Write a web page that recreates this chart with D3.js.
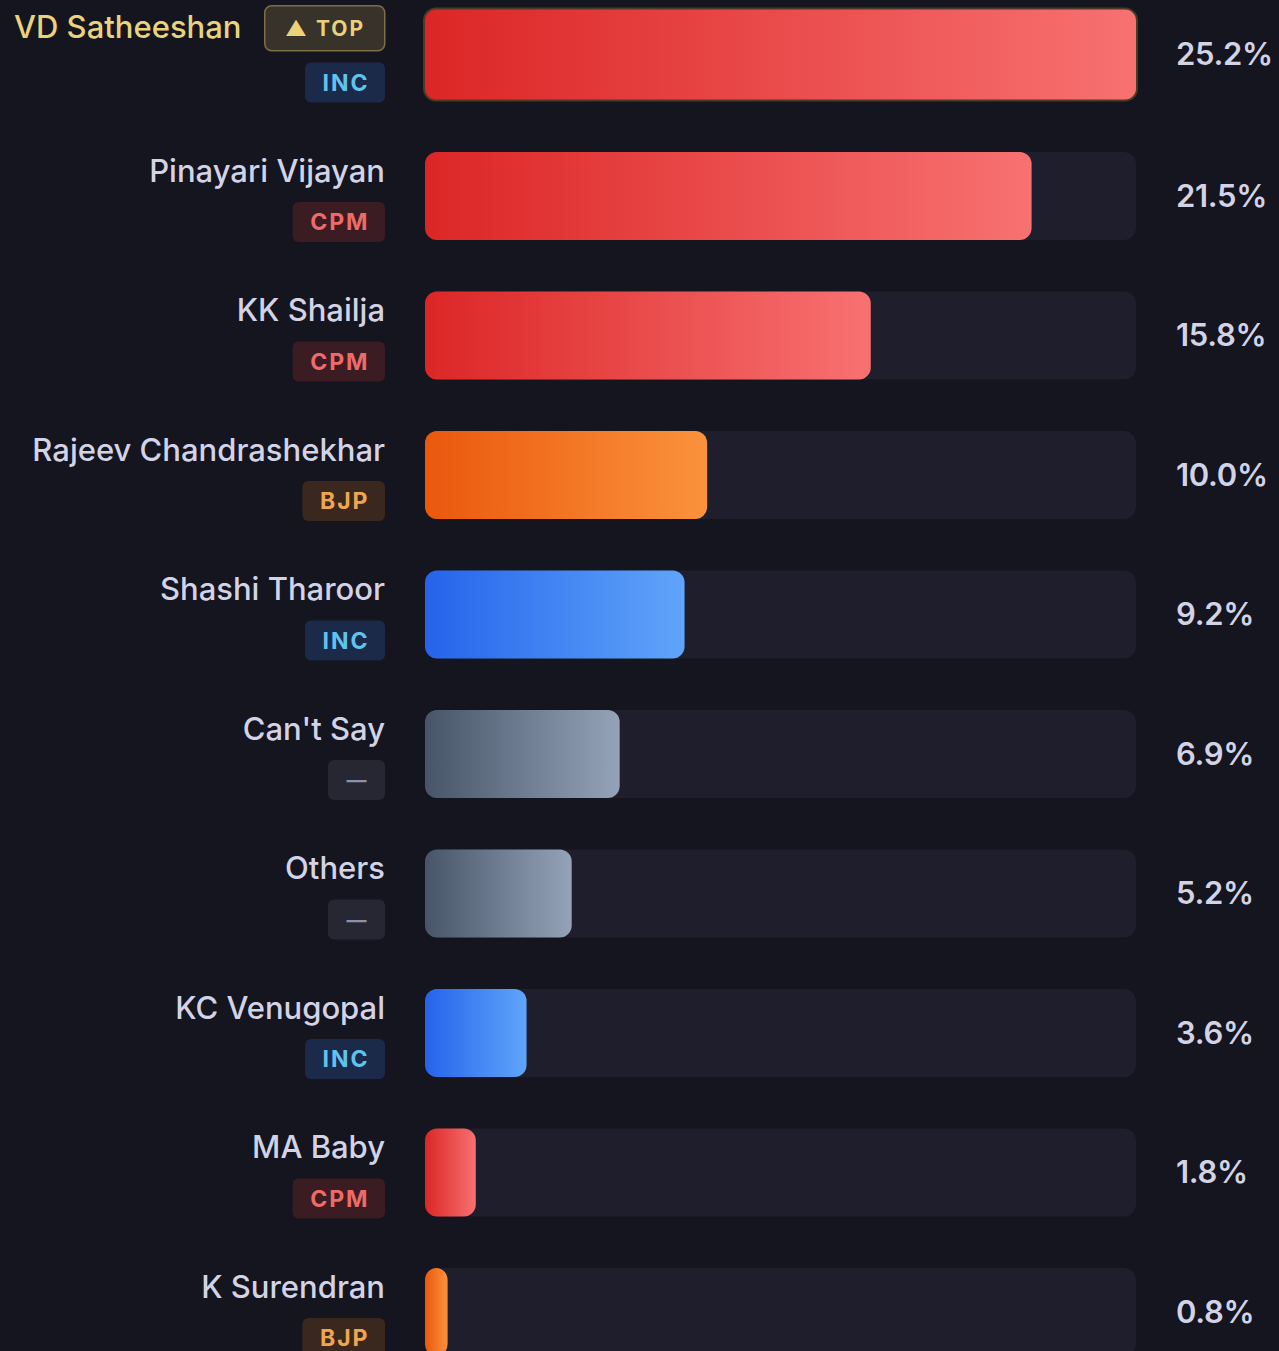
<!DOCTYPE html>
<html>
<head>
<meta charset="utf-8">
<script src="https://cdn.jsdelivr.net/npm/d3@7"></script>
<style>
  html, body { margin: 0; padding: 0; background: #14151f; }
  svg { display: block; font-family: Inter, "Noto Sans", sans-serif; }
</style>
</head>
<body>
<div id="chart"></div>
<script>
// Chart data.
let names = ["VD Satheeshan", "Pinayari Vijayan", "KK Shailja", "Rajeev Chandrashekhar",
    "Shashi Tharoor", "Can't Say", "Others", "KC Venugopal", "MA Baby", "K Surendran"];
let parties = ["INC", "CPM", "CPM", "BJP", "INC", "—", "—", "INC", "CPM", "BJP"];
let shares = [25.2, 21.5, 15.8, 10.0, 9.2, 6.9, 5.2, 3.6, 1.8, 0.8];
let shareLabels = ["25.2%", "21.5%", "15.8%", "10.0%", "9.2%", "6.9%", "5.2%", "3.6%", "1.8%", "0.8%"];
let topLabel = "▲ TOP";

let width = 1279, height = 1351;
let trackLeft = 425, trackRight = 1136;

let rows = names.map(function (n, i) {
    return { name: n, party: parties[i], value: shares[i], label: shareLabels[i], top: i === 0 };
});

// Scales
let x = d3.scaleLinear().domain([0, d3.max(shares)]).range([trackLeft, trackRight]);
let y = d3.scaleBand().domain(names).range([12.5, 1356]).paddingInner(51.5 / 139.5).paddingOuter(0);

// Gradient colours per bar colour group.
let grad = {
    red: ["#dc2626", "#f87171"],
    orange: ["#ea580c", "#fb923c"],
    blue: ["#2563eb", "#60a5fa"],
    gray: ["#475569", "#94a3b8"]
};
let partyColor = d3.scaleOrdinal().domain(["INC", "CPM", "BJP", "—"]).range(["blue", "red", "orange", "gray"]);
function barColor(d) { return d.top ? "red" : partyColor(d.party); }

// Badge styles
let badgeFill = d3.scaleOrdinal().domain(["INC", "CPM", "BJP", "—"]).range(["#1c2a4a", "#3b1c22", "#3a281f", "#262733"]);
let badgeText = d3.scaleOrdinal().domain(["INC", "CPM", "BJP", "—"]).range(["#5ec4ee", "#ee6b68", "#f0a64f", "#8c91a8"]);

let svg = d3.select("#chart").append("svg")
    .attr("width", width)
    .attr("height", height);

svg.append("rect").attr("width", width).attr("height", height).attr("fill", "#14151f");

let defs = svg.append("defs");
Object.keys(grad).forEach(function (k) {
    let g = defs.append("linearGradient").attr("id", "g-" + k)
        .attr("x1", "0%").attr("x2", "100%").attr("y1", "0%").attr("y2", "0%");
    g.append("stop").attr("offset", "0%").attr("stop-color", grad[k][0]);
    g.append("stop").attr("offset", "100%").attr("stop-color", grad[k][1]);
});

let row = svg.selectAll(".row")
    .data(rows)
    .enter().append("g")
    .attr("class", "row")
    .attr("transform", function (d) { return "translate(0," + y(d.name) + ")"; });

let bh = y.bandwidth();

// Track
row.append("rect")
    .attr("x", trackLeft)
    .attr("width", trackRight - trackLeft)
    .attr("height", bh)
    .attr("rx", 12)
    .attr("fill", "#1e1e2c");

// Bar (the leader is drawn a little larger, with an outline)
row.append("rect")
    .attr("x", function (d) { return d.top ? trackLeft - 1 : trackLeft; })
    .attr("y", function (d) { return d.top ? -4 : 0; })
    .attr("width", function (d) { return x(d.value) - trackLeft + (d.top ? 2 : 0); })
    .attr("height", function (d) { return d.top ? bh + 4 : bh; })
    .attr("rx", 12)
    .attr("fill", function (d) { return "url(#g-" + barColor(d) + ")"; })
    .attr("stroke", function (d) { return d.top ? "#4a3a2a" : "none"; })
    .attr("stroke-width", 2);

// Percent label
row.append("text")
    .attr("x", 1176)
    .attr("y", function (d) { return d.top ? bh / 2 - 2 : bh / 2; })
    .attr("dy", "0.35em")
    .attr("fill", "#d3d3e6")
    .attr("font-size", 31)
    .attr("font-weight", 600)
    .attr("letter-spacing", -0.3)
    .text(function (d) { return d.label; });

// Name
row.append("text")
    .attr("x", function (d) { return d.top ? 14 : 385; })
    .attr("y", function (d) { return d.top ? 15 : 19; })
    .attr("dy", "0.35em")
    .attr("text-anchor", function (d) { return d.top ? "start" : "end"; })
    .attr("fill", function (d) { return d.top ? "#e9d37c" : "#d3d3e6"; })
    .attr("font-size", 31)
    .attr("font-weight", 500)
    .text(function (d) { return d.name; });

// Party badge
let badge = row.append("g").attr("transform", "translate(0,50)");
badge.append("text")
    .attr("y", 20)
    .attr("dy", "0.36em")
    .attr("text-anchor", "middle")
    .attr("font-size", function (d) { return d.party === "—" ? 20 : 23; })
    .attr("font-weight", 700)
    .attr("letter-spacing", function (d) { return d.party === "—" ? 0 : 2; })
    .attr("fill", function (d) { return badgeText(d.party); })
    .text(function (d) { return d.party; });

badge.each(function (d) {
    let g = d3.select(this);
    let t = g.select("text");
    let w = d.party === "—" ? 57 : t.node().getComputedTextLength() + 33;
    g.insert("rect", "text")
        .attr("x", 385 - w)
        .attr("width", w)
        .attr("height", 40)
        .attr("rx", 6)
        .attr("fill", badgeFill(d.party));
    t.attr("x", 385 - w / 2 + (d.party === "—" ? 0 : 1));
});

// TOP badge on the leader
let lead = row.filter(function (d) { return d.top; });
let topG = lead.append("g").attr("transform", "translate(264,-7.5)");
topG.append("rect")
    .attr("x", 0.75)
    .attr("y", 0.75)
    .attr("width", 120)
    .attr("height", 45)
    .attr("rx", 7)
    .attr("fill", "#37322a")
    .attr("stroke", "#7d6e45")
    .attr("stroke-width", 1.5);
topG.append("text")
    .attr("x", 61)
    .attr("y", 23)
    .attr("dy", "0.36em")
    .attr("text-anchor", "middle")
    .attr("font-size", 21)
    .attr("font-weight", 700)
    .attr("letter-spacing", 2)
    .attr("fill", "#ebd27a")
    .text(topLabel);
</script>
</body>
</html>
